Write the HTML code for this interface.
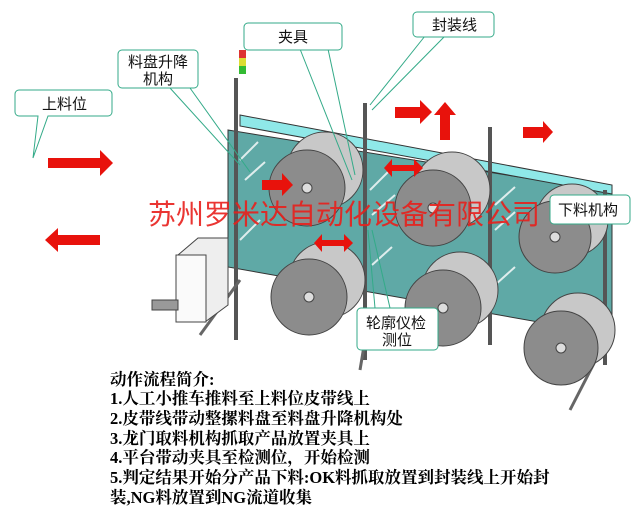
<!DOCTYPE html>
<html><head><meta charset="utf-8"><style>
body{margin:0;background:#fff;}
svg{display:block}
.c{font-family:"Liberation Sans","Noto Sans CJK SC",sans-serif;font-size:15px;fill:#111}
.t{font-family:"Liberation Serif","Noto Serif CJK SC",serif;font-size:16.5px;fill:#000;font-weight:bold}
</style></head><body>
<svg width="635" height="518" viewBox="0 0 635 518" xmlns="http://www.w3.org/2000/svg">
<rect width="635" height="518" fill="#fff"/>
<!-- machine panel -->
<polygon points="228,130 612,192 612,335 228,267" fill="#5fa9a6" stroke="#333" stroke-width="1"/>
<polygon points="240,115 612,185 612,194 240,126" fill="#8fe8e8" stroke="#333"/>
<g stroke="#555" stroke-width="4">
<line x1="236" y1="78" x2="236" y2="340"/>
<line x1="365" y1="103" x2="365" y2="360"/>
<line x1="490" y1="127" x2="490" y2="345"/>
<line x1="605" y1="190" x2="605" y2="365"/>
</g>
<g stroke="#666" stroke-width="3">
<line x1="240" y1="280" x2="200" y2="335"/><line x1="606" y1="340" x2="570" y2="410"/><line x1="365" y1="340" x2="360" y2="370"/>
</g>
<g stroke="#fff" stroke-width="2" opacity="0.8">
<line x1="240" y1="160" x2="258" y2="142"/><line x1="245" y1="180" x2="265" y2="162"/>
<line x1="370" y1="190" x2="390" y2="170"/><line x1="372" y1="215" x2="395" y2="195"/>
<line x1="495" y1="205" x2="515" y2="187"/><line x1="495" y1="230" x2="515" y2="212"/>
<line x1="240" y1="240" x2="260" y2="220"/><line x1="372" y1="265" x2="392" y2="247"/>
<line x1="495" y1="285" x2="515" y2="267"/>
</g>
<!-- control box -->
<polygon points="178,255 198,238 228,238 228,305 205,322" fill="#eee" stroke="#444"/>
<rect x="176" y="255" width="30" height="67" fill="#fafafa" stroke="#444"/>
<rect x="152" y="300" width="26" height="10" fill="#999" stroke="#444"/>
<!-- tower light -->
<rect x="239" y="50" width="7" height="8" fill="#d33"/><rect x="239" y="58" width="7" height="8" fill="#dd3"/><rect x="239" y="66" width="7" height="8" fill="#3b3"/>
<!-- rolls -->
<g stroke="#444" stroke-width="1">
<g><circle cx="325" cy="170" r="38" fill="#c8c8c8"/><circle cx="307" cy="188" r="38" fill="#8c8c8c"/><circle cx="307" cy="188" r="5" fill="#ddd"/></g>
<g><circle cx="452" cy="190" r="38" fill="#c8c8c8"/><circle cx="433" cy="208" r="38" fill="#8c8c8c"/><circle cx="433" cy="208" r="5" fill="#ddd"/></g>
<g><circle cx="572" cy="220" r="36" fill="#c8c8c8"/><circle cx="555" cy="237" r="36" fill="#8c8c8c"/><circle cx="555" cy="237" r="5" fill="#ddd"/></g>
<g><circle cx="327" cy="280" r="38" fill="#c8c8c8"/><circle cx="309" cy="297" r="38" fill="#8c8c8c"/><circle cx="309" cy="297" r="5" fill="#ddd"/></g>
<g><circle cx="460" cy="290" r="38" fill="#c8c8c8"/><circle cx="443" cy="308" r="38" fill="#8c8c8c"/><circle cx="443" cy="308" r="5" fill="#ddd"/></g>
<g><circle cx="578" cy="330" r="37" fill="#c8c8c8"/><circle cx="561" cy="348" r="37" fill="#8c8c8c"/><circle cx="561" cy="348" r="5" fill="#ddd"/></g>
</g>
<!-- red arrows -->
<g fill="#e8120c">
<polygon points="48,158 100,158 100,150 113,163 100,176 100,168 48,168"/>
<polygon points="100,235 58,235 58,228 45,240 58,252 58,245 100,245"/>
<polygon points="262,180 282,180 282,173 293,185 282,196 282,190 262,190"/>
<polygon points="395,107 420,107 420,100 432,112 420,124 420,118 395,118"/>
<polygon points="440,140 440,115 434,115 445,102 456,115 450,115 450,140"/>
<polygon points="523,127 543,127 543,121 553,132 543,143 543,138 523,138"/>
<polygon points="322,240 344,240 344,234 353,243 344,252 344,246 322,246 322,252 314,243 322,234"/>
<polygon points="392,165 414,165 414,159 423,168 414,177 414,171 392,171 392,177 384,168 392,159"/>
</g>
<!-- callout lines -->
<g stroke="#3a8" stroke-width="1" fill="none">
<line x1="190" y1="88" x2="250" y2="172"/><line x1="170" y1="88" x2="240" y2="165"/>
<line x1="300" y1="49" x2="352" y2="180"/><line x1="328" y1="49" x2="355" y2="175"/>
<line x1="425" y1="36" x2="370" y2="105"/><line x1="445" y1="36" x2="372" y2="110"/>
<line x1="375" y1="308" x2="368" y2="230"/><line x1="390" y1="308" x2="372" y2="230"/>
</g>
<!-- callout boxes -->
<g fill="#fff" stroke="#3a8" stroke-width="1">
<path d="M19,90 h89 a4,4 0 0 1 4,4 v18 a4,4 0 0 1 -4,4 h-60 l-15,42 l5,-42 h-19 a4,4 0 0 1 -4,-4 v-18 a4,4 0 0 1 4,-4z"/>
<rect x="118" y="50" width="80" height="38" rx="4"/>
<rect x="244" y="23" width="98" height="27" rx="4"/>
<rect x="413" y="12" width="81" height="25" rx="4"/>
<rect x="550" y="195" width="80" height="29" rx="4"/>
<rect x="357" y="308" width="81" height="42" rx="4"/>
</g>
<text class="c" x="42" y="109">上料位</text>
<text class="c" x="128" y="67">料盘升降</text>
<text class="c" x="143" y="84">机构</text>
<text class="c" x="278" y="42">夹具</text>
<text class="c" x="432" y="30">封装线</text>
<text class="c" x="558" y="215">下料机构</text>
<text class="c" x="366" y="328">轮廓仪检</text>
<text class="c" x="382" y="345">测位</text>
<text x="148" y="224" font-family="'Liberation Sans','Noto Sans CJK SC',sans-serif" font-size="28" fill="#e8201c" opacity="0.9">苏州罗米达自动化设备有限公司</text>
<!-- text block -->
<g class="t">
<text x="110" y="385">动作流程简介:</text>
<text x="110" y="404">1.人工小推车推料至上料位皮带线上</text>
<text x="110" y="424">2.皮带线带动整摞料盘至料盘升降机构处</text>
<text x="110" y="444">3.龙门取料机构抓取产品放置夹具上</text>
<text x="110" y="463">4.平台带动夹具至检测位，开始检测</text>
<text x="110" y="483">5.判定结果开始分产品下料:OK料抓取放置到封装线上开始封</text>
<text x="110" y="503">装,NG料放置到NG流道收集</text>
</g>
</svg>
</body></html>
